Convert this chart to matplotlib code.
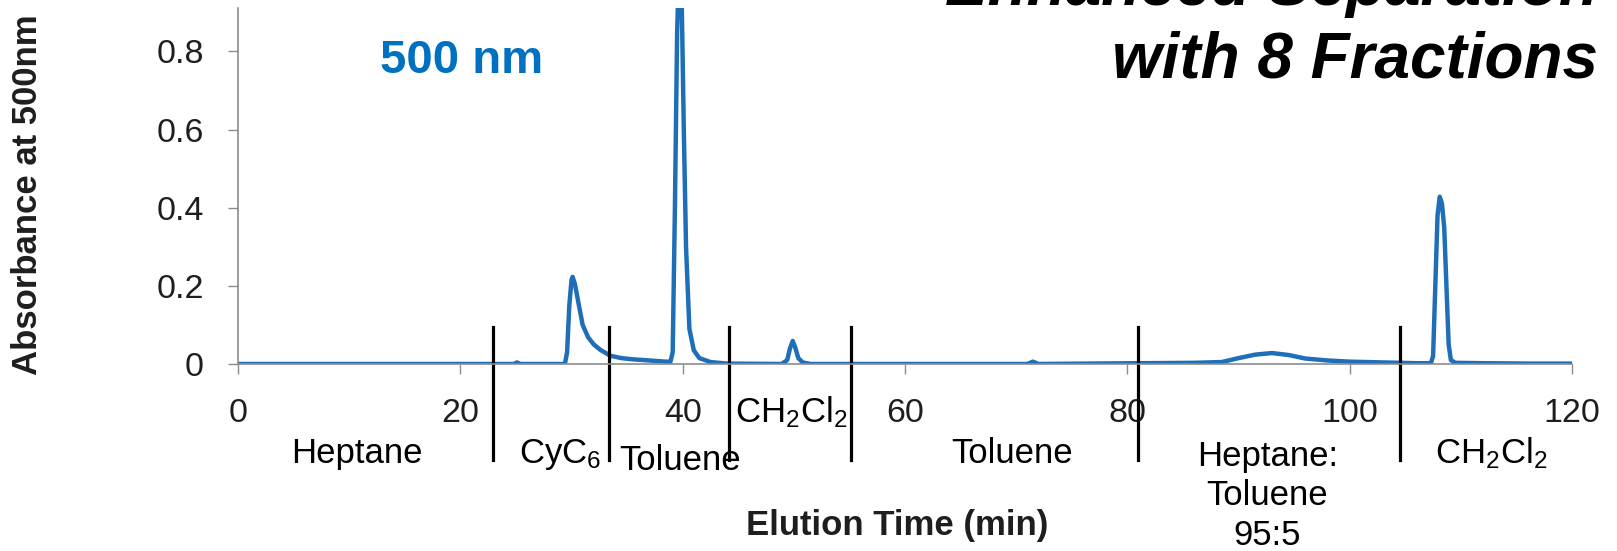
import matplotlib
matplotlib.use("Agg")
import matplotlib.pyplot as plt
import matplotlib.transforms as mtransforms

plt.rcParams['font.family'] = ['Liberation Sans', 'DejaVu Sans']
plt.rcParams['mathtext.fontset'] = 'custom'
plt.rcParams['mathtext.rm'] = 'Liberation Sans'
plt.rcParams['mathtext.it'] = 'Liberation Sans:italic'
plt.rcParams['mathtext.bf'] = 'Liberation Sans:bold'

# chromatogram (min, absorbance)
time = [0, 24.8, 25.1, 25.4, 29.4, 29.6, 29.8, 30.0, 30.1, 30.3, 30.5, 30.8, 31.0,
        31.5, 32.0, 32.6, 33.5, 34.5, 35.5, 37.0, 38.5, 38.9, 39.1, 39.3, 39.5,
        39.7, 39.9, 40.1, 40.3, 40.6, 41.0, 41.5, 42.5, 44.0, 48.9, 49.4, 49.65,
        49.9, 50.15, 50.4, 50.8, 51.5, 71.0, 71.5, 72.0, 81.0, 86.0, 88.5, 90.0,
        91.5, 93.0, 94.5, 96.0, 98.0, 100.0, 103.0, 106.0, 107.3, 107.5, 107.7,
        107.9, 108.1, 108.3, 108.5, 108.7, 108.9, 109.1, 109.5, 112.0, 116.0, 120.0]
absorb = [0, 0, 0.004, 0, 0, 0.03, 0.15, 0.215, 0.223, 0.205, 0.175, 0.13, 0.1,
          0.068, 0.05, 0.036, 0.021, 0.015, 0.012, 0.009, 0.006, 0.006, 0.03, 0.4, 0.85,
          1.05, 0.95, 0.6, 0.3, 0.09, 0.035, 0.015, 0.005, 0.001, 0, 0.01, 0.04,
          0.059, 0.04, 0.015, 0.004, 0, 0, 0.006, 0, 0.002, 0.003, 0.005, 0.015,
          0.024, 0.028, 0.023, 0.014, 0.009, 0.006, 0.004, 0.002, 0.002, 0.02, 0.2,
          0.38, 0.428, 0.41, 0.35, 0.2, 0.05, 0.01, 0.003, 0.002, 0.001, 0.001]

# fraction boundaries and solvent labels
cuts = [22.9, 33.4, 44.2, 55.1, 81.0, 104.5]
solvents = ['Heptane', 'CyC$_6$', 'Toluene', 'CH$_2$Cl$_2$', 'Toluene',
            'Heptane:\nToluene\n95:5', 'CH$_2$Cl$_2$']
solvent_x = [10.7, 29.0, 39.8, 49.8, 69.6, 92.6, 112.7]
solvent_y = [-0.278, -0.278, -0.298, -0.163, -0.278, -0.2135, -0.278]
solvent_va = ['baseline', 'baseline', 'baseline', 'baseline', 'baseline',
              'top', 'baseline']

xticks = [0, 20, 40, 60, 80, 100, 120]
yticks = [0, 0.2, 0.4, 0.6, 0.8]
ytick_labels = ['0', '0.2', '0.4', '0.6', '0.8']

blue = '#1F6FB8'
grey = '#8C8C8C'
dark = '#1E1E1E'

fig = plt.figure(figsize=(16.17, 5.51), dpi=100)
ax = fig.add_axes([0.1472, 0.3394, 0.825, 0.6461])

ax.plot(time, absorb, color=blue, lw=3.2, solid_joinstyle='round')
ax.set_xlim(0, 120)
ax.set_ylim(0, 0.911)
ax.set_xticks(xticks)
ax.set_yticks(yticks)
ax.set_yticklabels(ytick_labels)
ax.tick_params(length=7.5, width=1, color=grey, labelsize=24.5,
               labelcolor=dark, pad=17)
for s in ['top', 'right']:
    ax.spines[s].set_visible(False)
for s in ['left', 'bottom']:
    ax.spines[s].set_color(grey)
    ax.spines[s].set_linewidth(1.2)

trans = mtransforms.blended_transform_factory(ax.transData, ax.transAxes)
for c in cuts:
    ax.plot([c, c], [0.104, -0.27], color='black', lw=2.3,
            transform=trans, clip_on=False)
for lab, x, y, va in zip(solvents, solvent_x, solvent_y, solvent_va):
    ax.text(x, y, lab, transform=trans, ha='center', va=va,
            fontsize=25, color='black', linespacing=1.25)

fig.text(28 / 1617, 1 - 195 / 551, 'Absorbance at 500nm', rotation=90,
         ha='center', va='center', fontsize=25, fontweight='bold', color=dark)
fig.text(897 / 1617, 1 - 535 / 551, 'Elution Time (min)', ha='center',
         va='baseline', fontsize=25, fontweight='bold', color=dark)
fig.text(380 / 1617, 1 - 73 / 551, '500 nm', ha='left', va='baseline',
         fontsize=34, fontweight='bold', color='#0070C0')
fig.text(1598 / 1617, 1 - 5 / 551, 'Enhanced Separation', ha='right',
         va='baseline', fontsize=46, fontweight='bold', fontstyle='italic')
fig.text(1598 / 1617, 1 - 78 / 551, 'with 8 Fractions', ha='right',
         va='baseline', fontsize=46, fontweight='bold', fontstyle='italic')

fig.savefig('out.png', dpi=100)
